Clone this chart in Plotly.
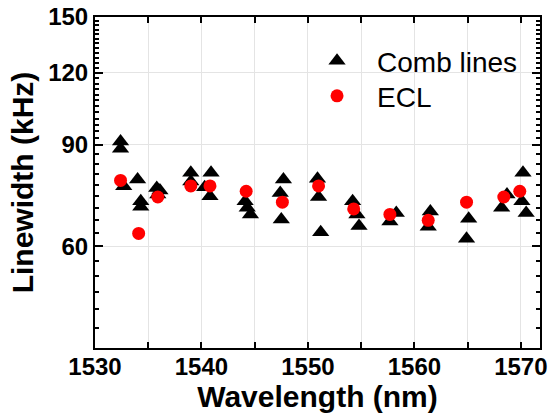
import numpy as np
import plotly.graph_objects as go

# Comb lines data (wavelength nm, linewidth kHz)
comb_wl = [1532.4, 1532.4, 1532.7, 1534.0, 1534.3, 1534.3, 1535.8, 1536.1, 1535.9,
           1539.0, 1539.0, 1540.9, 1540.8, 1540.3,
           1544.1, 1544.3, 1544.6, 1547.7, 1547.4, 1547.5,
           1550.9, 1551.0, 1551.2, 1554.2, 1554.6, 1554.8,
           1558.3, 1557.7, 1561.5, 1561.3, 1565.1, 1564.9,
           1568.7, 1568.2, 1570.2, 1570.1, 1570.5]
comb_lw = [91.2, 88.6, 76.3, 78.4, 71.9, 70.3, 75.8, 75.0, 73.8,
           80.5, 77.8, 80.5, 73.3, 76.0,
           71.9, 70.0, 68.2, 78.4, 74.3, 66.8,
           78.6, 73.1, 63.5, 71.9, 68.2, 65.1,
           68.6, 66.3, 69.0, 64.9, 67.0, 61.9,
           73.8, 70.0, 80.5, 71.9, 68.6]

# ECL data
ecl_wl = [1532.4, 1534.1, 1535.9, 1539.0, 1540.8, 1544.2, 1547.6, 1551.0,
          1554.3, 1557.7, 1561.3, 1564.9, 1568.4, 1569.9]
ecl_lw = [78.1, 63.2, 73.1, 76.4, 76.4, 74.8, 71.6, 76.4,
          69.7, 68.2, 66.6, 71.6, 73.1, 74.8]

x_ticks = [1530, 1535, 1540, 1545, 1550, 1555, 1560, 1565, 1570]
x_ticktext = ["1530", "", "1540", "", "1550", "", "1560", "", "1570"]
y_ticks = [60, 90, 120, 150]
y_minor = ([40 + i * 10 / 3 for i in range(1, 15)] +
           [90 + i * 2.5 for i in range(1, 24)])
y_minor = [v for v in y_minor if v not in y_ticks]

fig = go.Figure()
fig.add_trace(go.Scatter(
    x=comb_wl, y=comb_lw, mode="markers", name="Comb lines", legend="legend",
    marker=dict(symbol="triangle-up", size=15, color="black")))
fig.add_trace(go.Scatter(
    x=ecl_wl, y=ecl_lw, mode="markers", name="ECL", legend="legend2",
    marker=dict(symbol="circle", size=13, color="#ff0000")))

fam = "Liberation Sans, Arial"
tickfont = dict(family=fam, size=24, color="black", weight="bold")
titlefont = dict(family=fam, size=30, color="black")
legfont = dict(family=fam, size=28, color="black")

fig.update_layout(
    width=549, height=414,
    margin=dict(l=95, r=9, t=17, b=66, autoexpand=False),
    paper_bgcolor="white", plot_bgcolor="white",
    font=dict(family=fam, color="black"),
    showlegend=True,
    legend=dict(x=0.454, y=0.867, xanchor="left", yanchor="middle",
                bgcolor="rgba(0,0,0,0)", font=legfont, itemwidth=70),
    legend2=dict(x=0.454, y=0.761, xanchor="left", yanchor="middle",
                 bgcolor="rgba(0,0,0,0)", font=legfont, itemwidth=70),
    xaxis=dict(
        range=[1530, 1571.8], tickmode="array", tickvals=x_ticks, ticktext=x_ticktext,
        ticks="inside", ticklen=6, tickwidth=2, tickcolor="black",
        showline=True, linewidth=2, linecolor="black", mirror="allticks",
        showgrid=True, gridcolor="#e4e4e4", gridwidth=1, zeroline=False,
        automargin=False, tickfont=tickfont, ticklabelstandoff=-4,
        title=dict(text="<b>Wavelength (nm)</b>", font=titlefont, standoff=3)),
    yaxis=dict(
        type="log", range=[np.log10(40), np.log10(150)],
        tickmode="array", tickvals=y_ticks, ticktext=[str(v) for v in y_ticks],
        ticks="inside", ticklen=8, tickwidth=2, tickcolor="black",
        showline=True, linewidth=2, linecolor="black", mirror="allticks",
        showgrid=True, gridcolor="#e4e4e4", gridwidth=1, zeroline=False,
        automargin=False, tickfont=tickfont,
        minor=dict(tickmode="array", tickvals=y_minor, ticks="inside",
                   ticklen=4, tickwidth=1.5, tickcolor="black", showgrid=False),
        title=dict(text="<b>Linewidth (kHz)</b>", font=titlefont, standoff=6)),
)

fig.write_html("out.html")
